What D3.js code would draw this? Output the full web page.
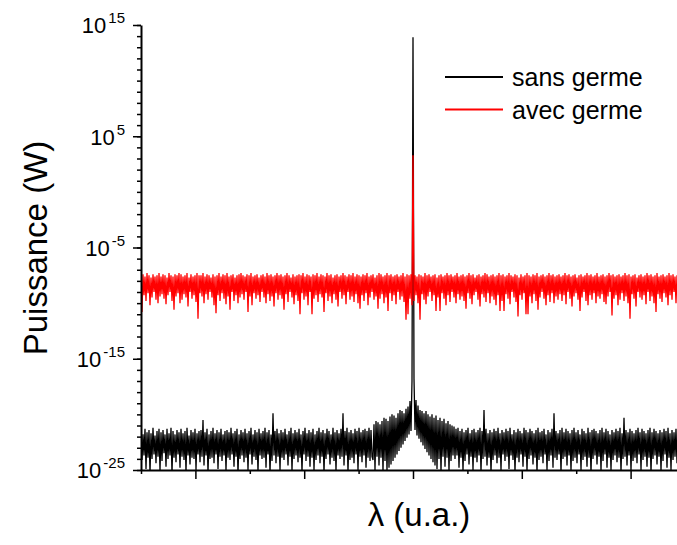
<!DOCTYPE html>
<html>
<head>
<meta charset="utf-8">
<script src="https://cdn.jsdelivr.net/npm/d3@7"></script>
<style>
    body { margin: 0; background: #fff; }
    svg text { font-family: "Liberation Sans", Arial, sans-serif; fill: #000; }
</style>
</head>
<body>
<div id="chart"></div>
<script>
//Series and colours
const seriesNames = ['sans germe', 'avec germe'];
const seriesColors = ['#000000', '#ff0000'];

//Axis ticks
const yMajorExponents = [-25, -15, -5, 5, 15];
const xMajorTicks = [-4, -2, 0, 2, 4];
const xMinorTicks = [-5, -3, -1, 1, 3, 5];
const lambdaRange = [-5, 5];

//log10 of the power (W), evenly spaced in lambda
const sansGerme = [
    //left of the peak
    -21.5,-24.1,-21.8,-23.7,-21.3,-24.9,-21.6,-23.9,-21.4,-25.3,-21.7,-24.0,-21.2,-23.6,-21.9,-24.4,-21.5,-23.8,-21.3,-25.1,
    -21.6,-24.2,-21.4,-23.5,-21.8,-24.7,-21.3,-24.0,-21.7,-23.7,-21.2,-25.4,-21.5,-23.9,-21.8,-24.3,-21.4,-23.6,-21.6,-24.8,
    -21.3,-23.8,-21.7,-24.1,-21.5,-25.2,-21.2,-23.7,-21.9,-24.5,-21.4,-23.9,-21.6,-24.0,-21.3,-25.0,-21.7,-23.6,-21.5,-24.3,
    -21.4,-23.8,-20.5,-24.6,-21.6,-23.7,-21.3,-25.3,-21.8,-24.0,-21.5,-23.9,-21.2,-24.4,-21.7,-23.6,-21.4,-24.9,-21.6,-23.8,
    -21.3,-24.2,-21.8,-23.7,-21.5,-25.1,-21.4,-23.9,-21.6,-24.1,-21.2,-23.6,-21.7,-24.7,-21.5,-23.8,-21.3,-25.4,-21.8,-24.0,
    -21.4,-23.7,-21.6,-24.3,-21.3,-23.9,-21.7,-25.0,-21.5,-23.6,-21.2,-24.5,-21.8,-23.8,-21.4,-24.1,-21.6,-25.2,-21.3,-23.7,
    -21.7,-24.0,-21.5,-23.9,-21.2,-24.8,-21.6,-23.6,-21.4,-25.3,-21.8,-24.2,-19.9,-23.7,-21.5,-24.4,-21.3,-23.8,-21.7,-25.0,
    -21.4,-23.9,-21.6,-24.1,-21.3,-23.6,-21.8,-24.6,-21.5,-23.8,-21.2,-25.1,-21.7,-24.0,-21.4,-23.7,-21.6,-24.3,-21.3,-23.9,
    -21.8,-25.2,-21.5,-23.6,-21.2,-24.2,-21.7,-23.8,-21.4,-24.7,-21.6,-23.9,-21.3,-25.0,-21.8,-24.1,-21.5,-23.7,-21.2,-24.4,
    -21.6,-23.8,-21.4,-25.3,-21.7,-24.0,-21.3,-23.6,-21.5,-24.5,-21.8,-23.9,-21.2,-24.2,-21.6,-25.1,-21.4,-23.7,-21.7,-24.0,
    -21.3,-23.8,-19.9,-24.6,-21.5,-23.7,-21.2,-25.2,-21.6,-24.1,-21.4,-23.9,-21.7,-24.4,-21.3,-23.6,-21.5,-25.0,-21.2,-23.8,
    -21.6,-24.3,-21.4,-23.7,-21.3,-24.8,-21.5,-23.9,-21.2,-24.2,-21.4,-23.8,
    //rising wing
    -24.1,-20.9,-25.0,-20.6,-23.8,-20.7,-24.6,-20.9,-23.9,-20.6,-25.2,-20.3,-24.2,-20.4,-25.1,-20.6,-24.8,-20.2,-24.5,-20.0,
    -24.2,-20.1,-23.9,-20.3,-23.6,-19.9,-23.3,-19.6,-23.0,-19.7,-22.7,-19.9,-22.4,-19.5,-22.1,-19.3,-21.8,-18.8,-21.5,-17.0,
    //peak
    13.9,
    //falling wing
    -16.8,-21.4,-18.7,-21.9,-19.2,-22.2,-19.6,-22.5,-19.7,-22.8,-19.9,-23.1,-19.7,-23.4,-20.0,-23.7,-20.2,-24.0,-20.0,-24.3,
    -20.3,-24.6,-20.1,-24.9,-20.5,-24.0,-20.3,-25.2,-20.6,-23.8,-20.4,-24.7,-20.8,-23.9,-20.6,-25.1,-20.9,-24.2,-21.0,-23.7,
    //right of the peak
    -21.1,-24.0,-21.3,-23.7,-21.2,-24.8,-21.5,-23.9,-21.3,-25.1,-21.6,-24.2,-21.4,-23.6,-21.2,-24.5,-21.7,-23.8,-21.4,-25.0,
    -21.3,-23.9,-21.6,-24.3,-21.4,-23.7,-21.2,-25.2,-21.5,-24.0,-19.6,-23.8,-21.3,-24.6,-21.7,-23.9,-21.4,-25.3,-21.6,-24.1,
    -21.3,-23.7,-21.5,-24.4,-21.2,-23.9,-21.7,-25.0,-21.4,-23.6,-21.6,-24.2,-21.3,-23.8,-21.5,-24.9,-21.2,-23.7,-21.8,-24.1,
    -21.4,-25.2,-21.6,-23.9,-21.3,-24.3,-21.5,-23.6,-21.7,-24.7,-21.2,-23.8,-21.4,-25.1,-21.6,-24.0,-21.3,-23.7,-21.5,-24.5,
    -21.7,-23.9,-21.4,-25.3,-21.2,-24.1,-21.6,-23.8,-21.5,-24.4,-21.3,-23.6,-21.8,-25.0,-21.4,-24.2,-21.6,-23.7,-21.3,-24.8,
    -19.9,-23.9,-21.5,-24.1,-21.7,-23.6,-21.4,-25.2,-21.2,-24.0,-21.6,-23.8,-21.3,-24.6,-21.5,-23.7,-21.7,-25.1,-21.4,-24.2,
    -21.2,-23.9,-21.6,-24.4,-21.4,-23.6,-21.8,-25.0,-21.3,-24.1,-21.5,-23.8,-21.7,-24.7,-21.2,-23.9,-21.6,-25.3,-21.4,-24.0,
    -21.3,-23.7,-21.5,-24.5,-21.7,-23.8,-21.4,-25.1,-21.2,-24.2,-21.6,-23.6,-21.3,-24.8,-21.5,-23.9,-21.8,-25.0,-21.4,-24.1,
    -21.6,-23.7,-21.3,-24.3,-21.5,-23.9,-21.2,-25.2,-21.7,-24.0,-20.3,-23.8,-21.4,-24.6,-21.6,-23.7,-21.3,-25.1,-21.5,-24.2,
    -21.7,-23.9,-21.4,-24.4,-21.2,-23.6,-21.6,-25.0,-21.3,-24.1,-21.5,-23.8,-21.7,-24.7,-21.4,-23.9,-21.2,-25.3,-21.6,-24.0,
    -21.3,-23.7,-21.5,-24.5,-21.7,-23.8,-21.4,-25.1,-21.6,-24.2,-21.3,-23.6,-21.5,-24.8,-21.2,-23.9,-21.7,-25.0,-21.4,-24.1,
    -21.6,-23.8,-21.3,-24.4,-21.5,-23.7,-21.7,-25.2,-21.4,-24.0,-21.6,-23.9
];

const avecGerme = [
    -7.5,-10.8,-7.4,-9.3,-7.6,-9.8,-7.3,-9.1,-7.5,-10.2,-7.7,-9.5,-7.4,-9.0,-7.6,-9.7,-7.5,-10.0,-7.3,-9.4,
    -7.6,-9.2,-7.4,-9.6,-7.5,-10.1,-7.7,-9.3,-7.3,-9.0,-7.5,-9.8,-7.6,-10.6,-7.4,-9.4,-7.5,-9.1,-7.3,-10.0,
    -7.4,-9.7,-7.6,-9.2,-7.5,-9.5,-7.3,-10.3,-7.7,-9.0,-7.4,-9.6,-7.6,-9.3,-7.5,-9.9,-7.3,-11.4,-7.5,-9.1,
    -7.5,-9.4,-7.3,-10.0,-7.6,-9.2,-7.4,-9.7,-7.5,-9.0,-7.7,-9.5,-7.4,-10.2,-7.6,-10.9,-7.5,-9.3,-7.3,-9.8,
    -7.6,-9.1,-7.4,-9.6,-7.5,-10.1,-7.3,-9.4,-7.6,-10.6,-7.5,-9.0,-7.4,-9.8,-7.7,-9.3,-7.5,-10.0,-7.4,-9.5,
    -7.3,-9.2,-7.5,-9.7,-7.6,-9.0,-7.4,-10.8,-7.5,-9.4,-7.3,-10.2,-7.6,-9.1,-7.5,-9.6,-7.4,-9.3,-7.7,-9.9,
    -7.5,-9.0,-7.4,-9.5,-7.6,-10.0,-7.3,-9.2,-7.5,-9.8,-7.4,-9.4,-7.6,-10.3,-7.5,-9.1,-7.3,-9.7,-7.5,-9.3,
    -7.4,-9.6,-7.6,-10.6,-7.5,-9.2,-7.3,-9.9,-7.5,-9.0,-7.7,-9.5,-7.4,-10.1,-7.6,-9.3,-7.5,-9.8,-7.4,-11.0,
    -7.5,-9.1,-7.3,-9.7,-7.6,-9.4,-7.4,-10.2,-7.5,-9.0,-7.6,-11.0,-7.4,-9.6,-7.5,-9.3,-7.3,-9.9,-7.6,-9.2,
    -7.4,-9.5,-7.5,-10.8,-7.6,-9.1,-7.3,-9.8,-7.5,-9.4,-7.4,-10.0,-7.7,-9.2,-7.5,-9.7,-7.4,-10.3,-7.6,-9.0,
    -7.5,-9.6,-7.3,-9.3,-7.5,-10.1,-7.6,-9.0,-7.4,-9.7,-7.5,-9.4,-7.3,-9.9,-7.6,-9.2,-7.4,-10.0,-7.5,-10.5,
    -7.6,-9.3,-7.4,-9.8,-7.5,-9.1,-7.3,-10.2,-7.6,-9.5,-7.5,-9.0,-7.4,-9.7,-7.7,-9.4,-7.5,-10.5,-7.3,-9.6,
    -7.4,-9.2,-7.6,-10.0,-7.5,-9.5,-7.3,-10.7,-7.5,-9.1,-7.4,-9.8,-7.6,-9.3,-7.5,-10.1,-7.4,-9.0,-7.6,-9.7,
    -7.5,-9.4,-7.3,-9.9,-7.6,-11.5,-7.4,-11.0,-7.5,-9.6,-7.4,-10.2,3.3,-9.8,-7.5,-9.3,-7.6,-10.0,-7.4,-11.5,
    -7.5,-9.2,-7.6,-9.7,-7.3,-10.1,-7.5,-9.4,-7.4,-9.0,-7.6,-9.8,-7.5,-9.3,-7.4,-10.7,-7.7,-9.5,-7.5,-10.7,
    -7.4,-9.1,-7.6,-9.6,-7.5,-10.2,-7.3,-9.3,-7.5,-9.9,-7.4,-9.0,-7.6,-9.5,-7.5,-10.0,-7.3,-9.2,-7.6,-9.7,
    -7.5,-9.4,-7.4,-9.8,-7.6,-10.5,-7.5,-9.1,-7.3,-9.6,-7.5,-10.1,-7.4,-9.3,-7.7,-9.0,-7.5,-9.7,-7.4,-10.3,
    -7.6,-9.2,-7.5,-9.5,-7.3,-9.9,-7.4,-9.1,-7.6,-10.0,-7.5,-9.4,-7.4,-9.7,-7.6,-10.2,-7.5,-9.3,-7.3,-10.7,
    -7.5,-9.8,-7.4,-10.7,-7.6,-9.2,-7.5,-9.6,-7.3,-10.1,-7.5,-9.0,-7.6,-9.5,-7.4,-9.9,-7.5,-11.2,-7.7,-9.3,
    -7.4,-9.7,-7.6,-9.1,-7.5,-11.0,-7.3,-11.0,-7.5,-9.4,-7.6,-10.0,-7.4,-9.2,-7.5,-9.8,-7.3,-10.6,-7.6,-9.5,
    -7.5,-9.0,-7.4,-9.6,-7.6,-10.2,-7.5,-9.3,-7.3,-9.9,-7.5,-9.1,-7.4,-10.0,-7.6,-9.4,-7.5,-9.7,-7.4,-9.2,
    -7.6,-9.8,-7.5,-9.3,-7.3,-10.1,-7.5,-9.0,-7.4,-9.6,-7.6,-10.3,-7.5,-9.4,-7.4,-9.1,-7.7,-9.7,-7.5,-10.7,
    -7.4,-9.5,-7.6,-9.0,-7.5,-9.8,-7.3,-10.2,-7.5,-9.3,-7.4,-9.7,-7.6,-9.1,-7.5,-10.0,-7.3,-9.4,-7.6,-9.6,
    -7.5,-9.2,-7.4,-9.9,-7.6,-10.1,-7.5,-9.4,-7.3,-9.0,-7.5,-11.1,-7.4,-9.6,-7.6,-9.3,-7.5,-10.2,-7.4,-9.7,
    -7.6,-9.1,-7.5,-9.8,-7.3,-9.4,-7.5,-10.0,-7.4,-11.4,-7.6,-9.2,-7.5,-9.6,-7.4,-10.3,-7.7,-9.0,-7.5,-9.5,
    -7.4,-9.7,-7.6,-9.3,-7.5,-10.1,-7.3,-9.0,-7.5,-9.8,-7.4,-9.4,-7.6,-10.0,-7.5,-10.8,-7.3,-9.2,-7.6,-9.6,
    -7.5,-9.9,-7.4,-9.1,-7.6,-9.5,-7.5,-10.2,-7.3,-9.3,-7.5,-9.7,-7.4,-9.0,-7.6,-10.0,-7.5,-9.4,-7.4,-9.8,
    -7.6,-9.2,-7.5,-10.1,-7.4
];

let margin = {top: 25, right: -8, bottom: 75, left: 141},
    width = 677 - margin.left - margin.right,
    height = 545 - margin.top - margin.bottom;

let svg = d3.select('#chart')
    .append('svg')
        .attr('width', 677)
        .attr('height', 545)
    .append('g')
        .attr('transform', 'translate(' + margin.left + ',' + margin.top + ')');

let x = d3.scaleLinear()
    .domain(lambdaRange)
    .range([0, width]);

let y = d3.scaleLog()
    .domain([1e-25, 1e15])
    .range([height, 0]);

//position of each sample along lambda
let sampleX = d3.scaleLinear()
    .domain([0, sansGerme.length - 1])
    .range(lambdaRange);

svg.append('clipPath')
    .attr('id', 'plot-clip')
    .append('rect')
    .attr('x', 0)
    .attr('y', -5)
    .attr('width', width)
    .attr('height', height + 5);

let line = d3.line()
    .x(function(d, i) { return x(sampleX(i)); })
    .y(function(d) { return y(Math.pow(10, d)); });

let plot = svg.append('g').attr('clip-path', 'url(#plot-clip)');

[sansGerme, avecGerme].forEach(function(serie, k) {
    plot.append('path')
        .datum(serie)
        .attr('fill', 'none')
        .attr('stroke', seriesColors[k])
        .attr('stroke-width', 1.3)
        .attr('stroke-linejoin', 'bevel')
        .attr('d', line);
});

//Y axis: minor ticks every decade, major ones labelled
let allDecades = d3.range(-25, 16).map(function(e) { return Math.pow(10, e); });

svg.append('g')
    .call(d3.axisLeft(y).tickValues(allDecades).tickSize(4).tickFormat(''))
    .call(function(g) { g.select('.domain').remove(); })
    .selectAll('.tick line').attr('stroke-width', 1.5);

let yAxis = svg.append('g')
    .call(d3.axisLeft(y)
        .tickValues(yMajorExponents.map(function(e) { return Math.pow(10, e); }))
        .tickSize(8)
        .tickSizeOuter(0)
        .tickPadding(8));

yAxis.select('.domain').attr('stroke-width', 2);
yAxis.selectAll('.tick line').attr('stroke-width', 1.5);
yAxis.selectAll('.tick text')
    .attr('font-size', 22)
    .attr('dy', '0.36em')
    .each(function(d) {
        let t = d3.select(this);
        let e = Math.round(Math.log10(d));
        t.text(null);
        t.append('tspan').text('10');
        t.append('tspan')
            .attr('font-size', 15)
            .attr('dx', 2)
            .attr('dy', -10)
            .text(e);
    });

//X axis: no labels
let xAxis = svg.append('g')
    .attr('transform', 'translate(0,' + height + ')');

xAxis.append('g')
    .call(d3.axisBottom(x).tickValues(xMinorTicks).tickSize(4).tickFormat(''))
    .call(function(g) { g.select('.domain').remove(); })
    .selectAll('.tick line').attr('stroke-width', 1.5);

xAxis.append('g')
    .call(d3.axisBottom(x).tickValues(xMajorTicks).tickSize(9).tickSizeOuter(0).tickFormat(''))
    .call(function(g) {
        g.select('.domain').attr('stroke-width', 2);
        g.selectAll('.tick line').attr('stroke-width', 1.5);
    });

//Axis titles
svg.append('text')
    .attr('transform', 'translate(' + (47 - margin.left) + ',' + (248 - margin.top) + ') rotate(-90)')
    .attr('text-anchor', 'middle')
    .attr('font-size', 33)
    .text('Puissance (W)');

svg.append('text')
    .attr('x', 419 - margin.left)
    .attr('y', 526 - margin.top)
    .attr('text-anchor', 'middle')
    .attr('font-size', 33)
    .text('λ (u.a.)');

//Legend
let legend = svg.append('g')
    .attr('transform', 'translate(' + (445 - margin.left) + ',' + (77 - margin.top) + ')');

seriesNames.forEach(function(name, k) {
    let row = legend.append('g').attr('transform', 'translate(0,' + (k * 32.5) + ')');
    row.append('line')
        .attr('x1', 0).attr('x2', 58)
        .attr('y1', 0).attr('y2', 0)
        .attr('stroke', seriesColors[k])
        .attr('stroke-width', 2);
    row.append('text')
        .attr('x', 67)
        .attr('y', 9)
        .attr('font-size', 25)
        .text(name);
});
</script>
</body>
</html>
